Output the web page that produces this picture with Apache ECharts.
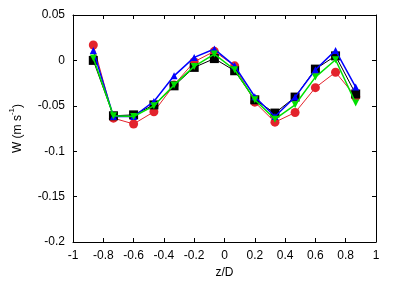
<!DOCTYPE html>
<html><head><meta charset="utf-8">
<script src="https://cdn.jsdelivr.net/npm/echarts@6/dist/echarts.min.js"></script>
<style>html,body{margin:0;padding:0;background:#fff}#c{width:407px;height:285px}</style>
</head><body><div id="c"></div>
<script>
const zPos = [-0.866, -0.733, -0.600, -0.466, -0.333, -0.200, -0.067, 0.067, 0.200, 0.333, 0.466, 0.600, 0.733, 0.866];
const wRed   = [0.017, -0.0636, -0.070, -0.0566, -0.027, -0.0015, 0.010, -0.006, -0.046, -0.068, -0.0574, -0.030, -0.013, -0.040];
const wBlack = [0.000, -0.061, -0.060, -0.049, -0.028, -0.0077, 0.002, -0.0114, -0.0434, -0.058, -0.0404, -0.0096, 0.005, -0.037];
const wBlue  = [0.011, -0.0618, -0.0618, -0.0452, -0.017, 0.0033, 0.0125, -0.006, -0.040, -0.0618, -0.0404, -0.0103, 0.011, -0.0294];
const wGreen = [0.0026, -0.061, -0.0618, -0.050, -0.027, -0.0066, 0.007, -0.0103, -0.0434, -0.0647, -0.0489, -0.0184, 0.0007, -0.047];
const xTicks = [-1, -0.8, -0.6, -0.4, -0.2, 0, 0.2, 0.4, 0.6, 0.8, 1];
const yTicks = [-0.2, -0.15, -0.1, -0.05, 0, 0.05];

const pts = a => zPos.map((z, i) => [z, a[i]]);
const font = 'Liberation Sans';
const chart = echarts.init(document.getElementById('c'), null, {renderer: 'canvas'});
const axLine = {show: true, onZero: false, lineStyle: {color: '#000', width: 1}};
const tick = {show: true, inside: true, length: 4, lineStyle: {color: '#000'}};
chart.setOption({
  animation: false,
  grid: {left: 72, right: 31, top: 15, bottom: 43},
  xAxis: [{
    type: 'value', min: xTicks[0], max: xTicks[xTicks.length - 1], interval: 0.2,
    axisLine: axLine, axisTick: tick, splitLine: {show: false},
    axisLabel: {color: '#000', fontFamily: font, fontSize: 12, margin: 8,
      formatter: v => String(Math.round(v * 10) / 10)},
    name: 'z/D', nameLocation: 'middle', nameGap: 25,
    nameTextStyle: {color: '#000', fontFamily: font, fontSize: 12}
  }, {
    type: 'value', position: 'top', min: -1, max: 1, interval: 0.2,
    axisLine: axLine, axisTick: tick, axisLabel: {show: false}, splitLine: {show: false}
  }],
  yAxis: [{
    type: 'value', min: yTicks[0], max: yTicks[yTicks.length - 1], interval: 0.05,
    axisLine: axLine, axisTick: tick, splitLine: {show: false},
    axisLabel: {color: '#000', fontFamily: font, fontSize: 12, margin: 8,
      formatter: v => String(Math.round(v * 100) / 100)},
    name: '{a|W (m s}{b|-1}{a|)}', nameLocation: 'middle', nameGap: 49, nameRotate: 90,
    nameTextStyle: {color: '#000', fontFamily: font, fontSize: 12,
      rich: {a: {fontFamily: font, fontSize: 12, color: '#000', lineHeight: 16, verticalAlign: 'bottom'},
             b: {fontFamily: font, fontSize: 8, color: '#000', lineHeight: 8, verticalAlign: 'top'}}}
  }, {
    type: 'value', position: 'right', min: -0.2, max: 0.05, interval: 0.05,
    axisLine: axLine, axisTick: tick, axisLabel: {show: false}, splitLine: {show: false}
  }],
  series: [
    {type: 'line', data: pts(wRed), symbol: 'circle', symbolSize: 9, z: 2,
     lineStyle: {color: '#e3232c', width: 1}, itemStyle: {color: '#e3232c'}},
    {type: 'line', data: pts(wBlack), symbol: 'rect', symbolSize: 9, z: 3,
     lineStyle: {color: '#000', width: 1}, itemStyle: {color: '#000'}},
    {type: 'line', data: pts(wBlue), symbol: 'triangle', symbolSize: 7, z: 4,
     lineStyle: {color: '#0000ff', width: 1.5}, itemStyle: {color: '#0000ff'}},
    {type: 'line', data: pts(wGreen), symbol: 'triangle', symbolRotate: 180, symbolSize: 7, z: 5,
     lineStyle: {color: '#00e000', width: 1.5}, itemStyle: {color: '#00e000'}}
  ]
});
</script></body></html>
